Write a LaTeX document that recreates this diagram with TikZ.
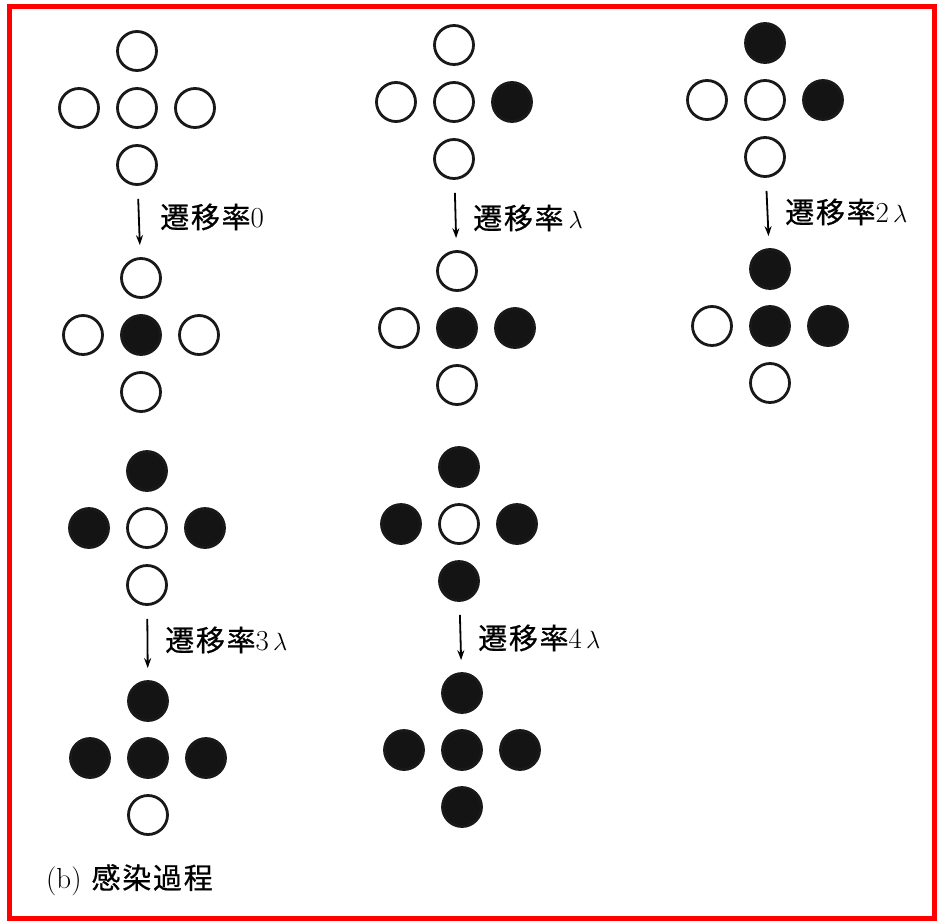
\documentclass[tikz,border=0pt]{standalone}
\usepackage{fontspec}
\newfontfamily\jpfont[LetterSpace=6,FakeBold=0.6]{Noto Sans CJK JP}
\usetikzlibrary{arrows.meta}

\tikzset{
  site/.style={circle, draw=black!90, line width=2.8pt, minimum size=39pt, inner sep=0pt},
  dotw/.style={site, fill=white},
  dotb/.style={site, fill=black!92},
  ratelabel/.style={anchor=west, inner sep=0pt, font=\fontsize{29}{32}\selectfont},
  transition/.style={line width=1.8pt, -{Stealth[length=10pt,width=7pt]}, shorten <=13pt, shorten >=12pt},
}

% one plus-shaped cluster of five sites: name, centre x, centre y, styles of top/left/centre/right/bottom
\newcommand\siteplus[8]{%
  \node[#4] (#1-t) at (#2,#3-57) {};
  \node[#5] (#1-l) at (#2-58,#3) {};
  \node[#6] (#1-c) at (#2,#3) {};
  \node[#7] (#1-r) at (#2+58,#3) {};
  \node[#8] (#1-b) at (#2,#3+57) {};
}

\begin{document}
\begin{tikzpicture}[x=1pt, y=-1pt]
  \useasboundingbox (0,0) rectangle (937,921);
  \fill[white] (0,0) rectangle (937,921);
  \draw[red, line width=5pt] (9,6) rectangle (934,918.5);

  % before / after pairs
  \siteplus{g1a}{137}{108}{dotw}{dotw}{dotw}{dotw}{dotw}
  \siteplus{g1b}{141}{335}{dotw}{dotw}{dotb}{dotw}{dotw}

  \siteplus{g2a}{454}{102}{dotw}{dotw}{dotw}{dotb}{dotw}
  \siteplus{g2b}{457}{328}{dotw}{dotw}{dotb}{dotb}{dotw}

  \siteplus{g3a}{765}{100}{dotb}{dotw}{dotw}{dotb}{dotw}
  \siteplus{g3b}{770}{326}{dotb}{dotw}{dotb}{dotb}{dotw}

  \siteplus{g4a}{147}{528}{dotb}{dotb}{dotw}{dotb}{dotw}
  \siteplus{g4b}{148}{758}{dotb}{dotb}{dotb}{dotb}{dotw}

  \siteplus{g5a}{459}{524}{dotb}{dotb}{dotw}{dotb}{dotb}
  \siteplus{g5b}{462}{750}{dotb}{dotb}{dotb}{dotb}{dotb}

  % transitions
  \draw[transition] (g1a-b) -- (g1b-t);
  \draw[transition] (g2a-b) -- (g2b-t);
  \draw[transition] (g3a-b) -- (g3b-t);
  \draw[transition] (g4a-b) -- (g4b-t);
  \draw[transition] (g5a-b) -- (g5b-t);

  \node[ratelabel] (r1) at (160,217) {{\jpfont 遷移率}0};
  \node[ratelabel] (r2) at (473,218) {{\jpfont 遷移率}\,$\lambda$};
  \node[ratelabel] (r3) at (785,212) {{\jpfont 遷移率}2$\,\lambda$};
  \node[ratelabel] (r4) at (165,640) {{\jpfont 遷移率}3$\,\lambda$};
  \node[ratelabel] (r5) at (478,638) {{\jpfont 遷移率}4$\,\lambda$};

  \node[ratelabel] (cap) at (46,880) {(b)\hspace{10pt}{\jpfont 感染過程}};
\end{tikzpicture}
\end{document}
